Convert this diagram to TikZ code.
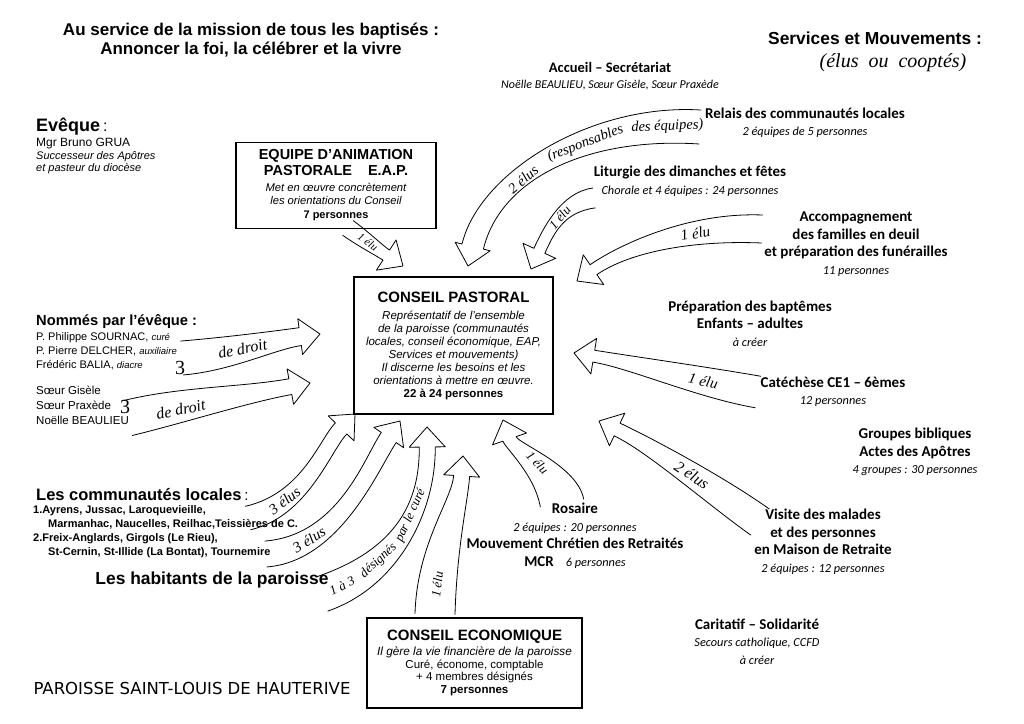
\documentclass[tikz,border=0pt]{standalone}
\usepackage{fontspec}
\setmainfont{Liberation Sans}
\newfontfamily\calib{Carlito}
\newfontfamily\handf{Liberation Serif}
\newfontfamily\comicf{DejaVu Sans}
\usetikzlibrary{calc}
\newcommand{\fs}[2]{\fontsize{#1}{#2}\selectfont}
% tapered block arrow: #1 tail width, #2 width at head, #3 start, #4 control 1, #5 control 2, #6 tip
\newcommand{\blockarrow}[6]{%
  \pgfmathsetlengthmacro{\arth}{#1/2}%
  \pgfmathsetlengthmacro{\arhw}{#2/2}%
  \coordinate (hb) at ($(#6)!20pt!(#5)$);
  \coordinate (sl) at ($(#3)!\arth!90:(#4)$);
  \coordinate (sr) at ($(#3)!\arth!-90:(#4)$);
  \coordinate (hl) at ($(hb)!\arhw!90:(#6)$);
  \coordinate (hr) at ($(hb)!\arhw!-90:(#6)$);
  \coordinate (bl) at ($(#4)+(sl)-(#3)$);
  \coordinate (br) at ($(#4)+(sr)-(#3)$);
  \coordinate (cl) at ($(#5)+(hl)-(hb)$);
  \coordinate (cr) at ($(#5)+(hr)-(hb)$);
  \coordinate (wl) at ($(hb)!18pt!90:(#6)$);
  \coordinate (wr) at ($(hb)!18pt!-90:(#6)$);
  \fill[white] (sl) .. controls (bl) and (cl) .. (hl) -- (wl) -- (#6) -- (wr) -- (hr) .. controls (cr) and (br) .. (sr) -- cycle;
  \draw[edge] (sl) .. controls (bl) and (cl) .. (hl) -- (wl) -- (#6) -- (wr) -- (hr) .. controls (cr) and (br) .. (sr);}
\begin{document}
\begin{tikzpicture}[x=1pt, y=-1pt,
  edge/.style={line width=.8pt, line join=round, line cap=round},
  cbox/.style={draw, line width=1.2pt, inner sep=0pt, align=center},
  rblk/.style={inner sep=0pt, align=center, font=\calib\fs{15}{17.5}},
  lblk/.style={inner sep=0pt, align=left, anchor=west},
  handtxt/.style={font=\handf\itshape\fs{20}{20}, inner sep=0pt},
  lbl/.style={sloped, inner sep=0pt, font=\handf\itshape\fs{#1}{#1}},
  lbl/.default=15]
\useasboundingbox (0,0) rectangle (1024,723);
\fill[white] (0,0) rectangle (1024,723);

% ---------- arrow coordinates ----------
\coordinate (a1s) at (348,228); \coordinate (a1b) at (362,238); \coordinate (a1c) at (380,251); \coordinate (a1t) at (403,266);
\coordinate (a2s) at (700,127); \coordinate (a2b) at (590,120); \coordinate (a2c) at (490,175); \coordinate (a2t) at (468,266);
\coordinate (a3s) at (594,198); \coordinate (a3b) at (562,202); \coordinate (a3c) at (548,232); \coordinate (a3t) at (531,269);
\coordinate (a4s) at (762,229); \coordinate (a4b) at (690,226); \coordinate (a4c) at (625,248); \coordinate (a4t) at (577,281);
\coordinate (a5s) at (758,392); \coordinate (a5b) at (700,382); \coordinate (a5c) at (630,362); \coordinate (a5t) at (574,353);
\coordinate (a6s) at (760,522); \coordinate (a6b) at (715,490); \coordinate (a6c) at (650,445); \coordinate (a6t) at (599,421);
\coordinate (a7s) at (562,503); \coordinate (a7b) at (556,470); \coordinate (a7c) at (512,446); \coordinate (a7t) at (503,420);
\coordinate (a8s) at (435,614); \coordinate (a8b) at (437,545); \coordinate (a8c) at (460,500); \coordinate (a8t) at (463,456);
\coordinate (a9s) at (322,594); \coordinate (a9b) at (392,570); \coordinate (a9c) at (428,512); \coordinate (a9t) at (427,427);
\coordinate (a10s) at (266,554); \coordinate (a10b) at (340,548); \coordinate (a10c) at (372,462); \coordinate (a10t) at (400,421);
\coordinate (a11s) at (248,518); \coordinate (a11b) at (305,505); \coordinate (a11c) at (325,445); \coordinate (a11t) at (355,414);
\coordinate (a12s) at (182,358); \coordinate (a12b) at (230,354); \coordinate (a12c) at (275,340); \coordinate (a12t) at (320,334);
\coordinate (a13s) at (128,418); \coordinate (a13b) at (185,404); \coordinate (a13c) at (245,395); \coordinate (a13t) at (310,383);

% ---------- arrows ----------
\blockarrow{18pt}{12pt}{a1s}{a1b}{a1c}{a1t}
\blockarrow{34pt}{22pt}{a2s}{a2b}{a2c}{a2t}
\blockarrow{20pt}{12pt}{a3s}{a3b}{a3c}{a3t}
\blockarrow{28pt}{12pt}{a4s}{a4b}{a4c}{a4t}
\blockarrow{32pt}{12pt}{a5s}{a5b}{a5c}{a5t}
\blockarrow{32pt}{14pt}{a6s}{a6b}{a6c}{a6t}
\blockarrow{44pt}{14pt}{a7s}{a7b}{a7c}{a7t}
\blockarrow{40pt}{16pt}{a8s}{a8b}{a8c}{a8t}
\blockarrow{36pt}{16pt}{a9s}{a9b}{a9c}{a9t}
\blockarrow{26pt}{18pt}{a10s}{a10b}{a10c}{a10t}
\blockarrow{24pt}{16pt}{a11s}{a11b}{a11c}{a11t}
\blockarrow{34pt}{18pt}{a12s}{a12b}{a12c}{a12t}
\blockarrow{36pt}{16pt}{a13s}{a13b}{a13c}{a13t}

% ---------- arrow labels ----------
\path (a1s) .. controls (a1b) and (a1c) .. (a1t) node[lbl=11, pos=0.42] (l1) {1 élu};
\path (a2t) .. controls (a2c) and (a2b) .. (a2s)
  node[lbl=14.5, pos=0.38] (l2a) {2 élus}
  node[lbl=14.5, pos=0.63] (l2b) {(responsables}
  node[lbl=14.5, pos=0.9] (l2c) {des équipes)};
\path (a3s) .. controls (a3b) and (a3c) .. (a3t) node[lbl=13, pos=0.45] (l3) {1 élu};
\path (a4s) .. controls (a4b) and (a4c) .. (a4t) node[lbl=15, pos=0.32] (l4) {1 élu};
\path (a5s) .. controls (a5b) and (a5c) .. (a5t) node[lbl=15, pos=0.3] (l5) {1 élu};
\path (a6s) .. controls (a6b) and (a6c) .. (a6t) node[lbl=16, pos=0.44] (l6) {2 élus};
\path (a7s) .. controls (a7b) and (a7c) .. (a7t) node[lbl=13, pos=0.45] (l7) {1 élu};
\path (a8s) .. controls (a8b) and (a8c) .. (a8t) node[lbl=13, pos=0.15] (l8) {1 élu};
\path (a9s) .. controls (a9b) and (a9c) .. (a9t)
  node[lbl=13, pos=0.1] (l9a) {1 à 3}
  node[lbl=13, pos=0.32] (l9b) {désignés}
  node[lbl=13, pos=0.6] (l9c) {par le curé};
\path (a10s) .. controls (a10b) and (a10c) .. (a10t) node[lbl=15, pos=0.22] (l10) {3 élus};
\path (a11s) .. controls (a11b) and (a11c) .. (a11t) node[lbl=15, pos=0.25] (l11) {3 élus};
\path (a12s) .. controls (a12b) and (a12c) .. (a12t) node[lbl=16, pos=0.43] (l12) {de droit};
\path (a13s) .. controls (a13b) and (a13c) .. (a13t) node[lbl=16, pos=0.3, yshift=-3pt] (l13) {de droit};
\node[handtxt, font=\handf\fs{20}{20}] (three1) at (180,368) {3};
\node[handtxt, font=\handf\fs{20}{20}] (three2) at (125,407) {3};

% ---------- titles ----------
\node[inner sep=0pt, align=center, font=\bfseries\fs{17}{19}] (title) at (251,40)
  {Au service de la mission de tous les baptisés :\\Annoncer la foi, la célébrer et la vivre};
\node[inner sep=0pt, font=\bfseries\fs{17.4}{18}] (serv) at (875,38) {Services et Mouvements :};
\node[handtxt] (cooptes) at (893,63) {(élus\enspace ou\enspace cooptés)};

% ---------- left column ----------
\node[lblk] (eveque) at (36,127) {{\bfseries\fs{18}{18}Evêque} \fs{16}{18}:};
\node[lblk, font=\fs{11}{12.5}] (grua) at (36,156)
  {{\fs{12}{12.5}Mgr Bruno GRUA}\\{\itshape Successeur des Apôtres}\\{\itshape et pasteur du diocèse}};
\node[lblk, font=\bfseries\fs{14.7}{16}] (nommes) at (36,322) {Nommés par l’évêque :};
\node[lblk, font=\fs{11}{14}] (pretres) at (36,351)
  {P. Philippe SOURNAC, {\fs{9.5}{14}\itshape curé}\\P. Pierre DELCHER, {\fs{9.5}{14}\itshape auxiliaire}\\Frédéric BALIA, {\fs{9.5}{14}\itshape diacre}};
\node[lblk, font=\fs{11.5}{15}] (soeurs) at (36,405) {Sœur Gisèle\\Sœur Praxède\\Noëlle BEAULIEU};
\node[lblk] (comm) at (36,495) {{\bfseries\fs{16.5}{18}Les communautés locales} \fs{15}{18}:};
\node[lblk, font=\bfseries\fs{11}{14}] (commlist) at (33,532)
  {1.Ayrens, Jussac, Laroquevieille,\\\hspace*{15pt}Marmanhac, Naucelles, Reilhac,Teissières de C.\\2.Freix-Anglards, Girgols (Le Rieu),\\\hspace*{15pt}St-Cernin, St-Illide (La Bontat), Tournemire};
\node[inner sep=0pt, font=\bfseries\fs{17.4}{18}] (hab) at (212,580) {Les habitants de la paroisse};
\node[inner sep=0pt, font=\comicf\fs{16.5}{17}] (paroisse) at (192,688) {PAROISSE SAINT-LOUIS DE HAUTERIVE};

% ---------- boxes ----------
\node[cbox, minimum width=200pt, minimum height=86pt, font=\fs{14.5}{14}] (eap) at (336,185.5)
  {{\bfseries EQUIPE D’ANIMATION}\\[2pt]{\bfseries PASTORALE\hspace{16pt}E.A.P.}\\[2pt]{\itshape\fs{11.2}{14}Met en œuvre concrètement}\\[-1pt]{\itshape\fs{11.2}{14}les orientations du Conseil}\\{\bfseries\fs{11}{14}7 personnes}};
\node[cbox, minimum width=199pt, minimum height=137pt, font=\fs{11.5}{13}] (cp) at (453.5,345.5)
  {{\bfseries\fs{15}{13}CONSEIL PASTORAL}\\[4pt]{\itshape Représentatif de l’ensemble}\\{\itshape de la paroisse (communautés}\\{\itshape locales, conseil économique, EAP,}\\{\itshape Services et mouvements)}\\{\itshape Il discerne les besoins et les}\\{\itshape orientations à mettre en œuvre.}\\{\bfseries 22 à 24 personnes}};
\node[cbox, minimum width=215pt, minimum height=90pt, font=\fs{11.5}{12.5}] (ce) at (474.5,663)
  {{\bfseries\fs{15}{12.5}CONSEIL ECONOMIQUE}\\[2.5pt]{\itshape\fs{11.8}{12.5}Il gère la vie financière de la paroisse}\\Curé, économe, comptable\\+ 4 membres désignés\\{\bfseries 7 personnes}};

% ---------- right column (services) ----------
\node[rblk, font=\calib\fs{14.5}{16}] (accueil) at (610,76)
  {{\bfseries Accueil – Secrétariat}\\{\itshape\fs{12}{16}Noëlle BEAULIEU, Sœur Gisèle, Sœur Praxède}};
\node[rblk] (relais) at (805,122.5)
  {{\bfseries Relais des communautés locales}\\{\itshape\fs{12.3}{17}2 équipes de 5 personnes}};
\node[rblk] (liturgie) at (690,181)
  {{\bfseries Liturgie des dimanches et fêtes}\\{\itshape\fs{12.3}{17}Chorale et 4 équipes : 24 personnes}};
\node[rblk] (accomp) at (856,244)
  {{\bfseries Accompagnement}\\{\bfseries des familles en deuil}\\{\bfseries et préparation des funérailles}\\{\itshape\fs{12.3}{17}11 personnes}};
\node[rblk] (bapt) at (750,323.5)
  {{\bfseries Préparation des baptêmes}\\{\bfseries Enfants – adultes}\\{\itshape\fs{12.3}{17}à créer}};
\node[rblk] (cate) at (833,391.5)
  {{\bfseries Catéchèse CE1 – 6èmes}\\{\itshape\fs{12.3}{17}12 personnes}};
\node[rblk] (bibl) at (915,452)
  {{\bfseries Groupes bibliques}\\{\bfseries Actes des Apôtres}\\{\itshape\fs{12.3}{17}4 groupes : 30 personnes}};
\node[rblk] (visite) at (823,541.5)
  {{\bfseries Visite des malades}\\{\bfseries et des personnes}\\{\bfseries en Maison de Retraite}\\{\itshape\fs{12.3}{17}2 équipes : 12 personnes}};
\node[rblk] (carit) at (757,641.5)
  {{\bfseries Caritatif – Solidarité}\\{\itshape\fs{12.3}{17}Secours catholique, CCFD}\\{\itshape\fs{12.3}{17}à créer}};
\node[rblk] (rosaire) at (575,535.5)
  {{\bfseries Rosaire}\\{\itshape\fs{12.3}{17}2 équipes : 20 personnes}\\{\bfseries Mouvement Chrétien des Retraités}\\{\bfseries MCR}\hspace{12pt}{\itshape\fs{12.3}{17}6 personnes}};
\end{tikzpicture}
\end{document}
